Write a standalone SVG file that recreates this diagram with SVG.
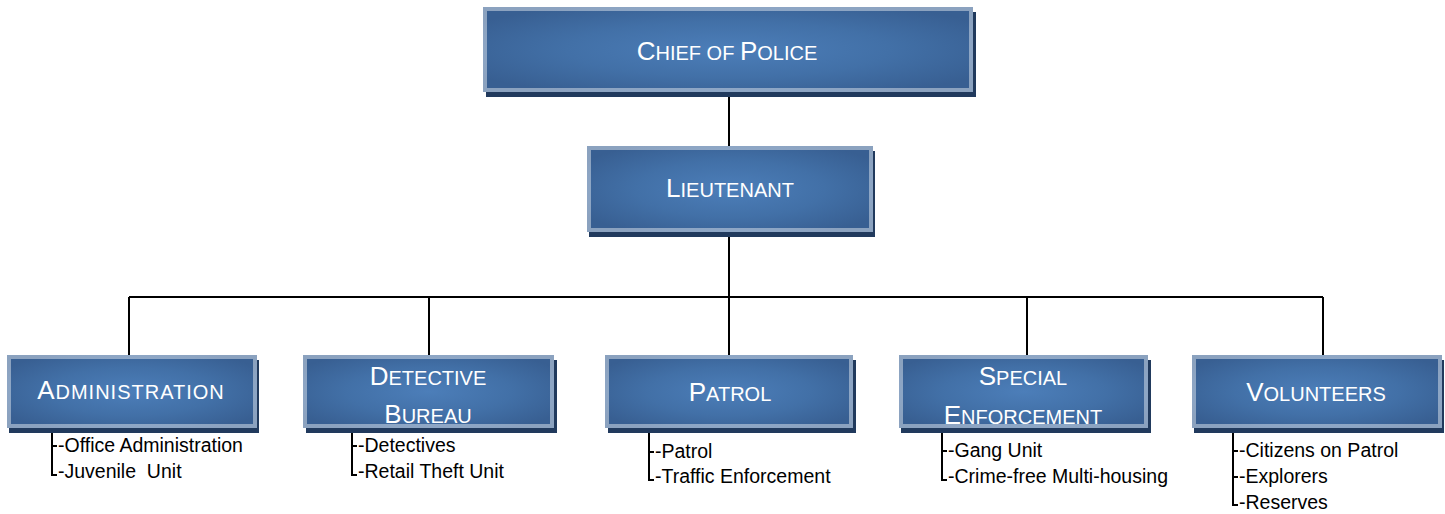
<svg xmlns="http://www.w3.org/2000/svg" width="1445" height="514" viewBox="0 0 1445 514">
  <defs>
    <radialGradient id="boxFill" cx="0.5" cy="0.5" r="0.6">
      <stop offset="0" stop-color="#4c7eb9"/>
      <stop offset="0.55" stop-color="#4270a7"/>
      <stop offset="1" stop-color="#385f92"/>
    </radialGradient>
  </defs>
  <style>
    .shadow { fill: #213a5d; }
    .body { fill: url(#boxFill); }
    .rim { fill: none; stroke: #ffffff; stroke-opacity: 0.42; stroke-width: 4; }
    .title { font-family: "Liberation Sans", Arial, sans-serif; font-size: 20px; fill: #ffffff; text-anchor: middle; }
    .cap { font-size: 26px; }
    .item { font-family: "Liberation Sans", Arial, sans-serif; font-size: 19.5px; fill: #000000; }
    .wire { fill: none; stroke: #000000; stroke-width: 2; }
    .bracket { fill: none; stroke: #000000; stroke-width: 2; }
  </style>

  <!-- connectors -->
  <g id="connectors">
    <path class="wire" d="M729 92 V146"/>
    <path class="wire" d="M729 232 V297"/>
    <path class="wire" d="M129 297 H1323"/>
    <path class="wire" d="M129 297 V355"/>
    <path class="wire" d="M429 297 V355"/>
    <path class="wire" d="M729 297 V355"/>
    <path class="wire" d="M1027 297 V355"/>
    <path class="wire" d="M1323 297 V355"/>
  </g>

  <!-- Chief of Police -->
  <g id="chief">
    <rect class="shadow" x="486" y="12" width="490" height="85"/>
    <rect class="body" x="483" y="7" width="490" height="85"/>
    <text class="title" x="727" y="60"><tspan class="cap">C</tspan>HIEF OF <tspan class="cap">P</tspan>OLICE</text>
    <rect class="rim" x="485" y="9" width="486" height="81"/>
  </g>

  <!-- Lieutenant -->
  <g id="lieutenant">
    <rect class="shadow" x="589" y="151" width="286" height="86"/>
    <rect class="body" x="587" y="146" width="286" height="86"/>
    <text class="title" x="730" y="197"><tspan class="cap">L</tspan>IEUTENANT</text>
    <rect class="rim" x="589" y="148" width="282" height="82"/>
  </g>

  <!-- Administration -->
  <g id="administration">
    <rect class="shadow" x="9" y="360" width="250" height="73"/>
    <rect class="body" x="7" y="355" width="250" height="73"/>
    <text class="title" x="131" y="399" letter-spacing="1"><tspan class="cap">A</tspan>DMINISTRATION</text>
    <rect class="rim" x="9" y="357" width="246" height="69"/>
    <path class="bracket" d="M52 433 V475 H57 M52 446 H57"/>
    <text class="item" x="58" y="452">-Office Administration</text>
    <text class="item" x="58" y="478" xml:space="preserve">-Juvenile  Unit</text>
  </g>

  <!-- Detective Bureau -->
  <g id="detective-bureau">
    <rect class="shadow" x="306" y="360" width="251" height="73"/>
    <rect class="body" x="303" y="355" width="251" height="73"/>
    <text class="title" x="428" y="385"><tspan class="cap">D</tspan>ETECTIVE</text>
    <text class="title" x="428" y="423"><tspan class="cap">B</tspan>UREAU</text>
    <rect class="rim" x="305" y="357" width="247" height="69"/>
    <path class="bracket" d="M352 433 V475 H357 M352 446 H357"/>
    <text class="item" x="358" y="452">-Detectives</text>
    <text class="item" x="358" y="478">-Retail Theft Unit</text>
  </g>

  <!-- Patrol -->
  <g id="patrol">
    <rect class="shadow" x="608" y="360" width="248" height="73"/>
    <rect class="body" x="605" y="355" width="248" height="73"/>
    <text class="title" x="730" y="401"><tspan class="cap">P</tspan>ATROL</text>
    <rect class="rim" x="607" y="357" width="244" height="69"/>
    <path class="bracket" d="M649 433 V480 H654 M649 452 H654"/>
    <text class="item" x="655" y="458">-Patrol</text>
    <text class="item" x="655" y="483">-Traffic Enforcement</text>
  </g>

  <!-- Special Enforcement -->
  <g id="special-enforcement">
    <rect class="shadow" x="901" y="360" width="250" height="73"/>
    <rect class="body" x="899" y="355" width="249" height="73"/>
    <text class="title" x="1023" y="385"><tspan class="cap">S</tspan>PECIAL</text>
    <text class="title" x="1023" y="424"><tspan class="cap">E</tspan>NFORCEMENT</text>
    <rect class="rim" x="901" y="357" width="245" height="69"/>
    <path class="bracket" d="M942 433 V480 H947 M942 451 H947"/>
    <text class="item" x="948" y="457">-Gang Unit</text>
    <text class="item" x="948" y="483">-Crime-free Multi-housing</text>
  </g>

  <!-- Volunteers -->
  <g id="volunteers">
    <rect class="shadow" x="1194" y="360" width="250" height="73"/>
    <rect class="body" x="1192" y="355" width="250" height="73"/>
    <text class="title" x="1316" y="401"><tspan class="cap">V</tspan>OLUNTEERS</text>
    <rect class="rim" x="1194" y="357" width="246" height="69"/>
    <path class="bracket" d="M1233 433 V505 H1238 M1233 451 H1238 M1233 477 H1238"/>
    <text class="item" x="1239" y="457">-Citizens on Patrol</text>
    <text class="item" x="1239" y="483">-Explorers</text>
    <text class="item" x="1239" y="509">-Reserves</text>
  </g>
</svg>
